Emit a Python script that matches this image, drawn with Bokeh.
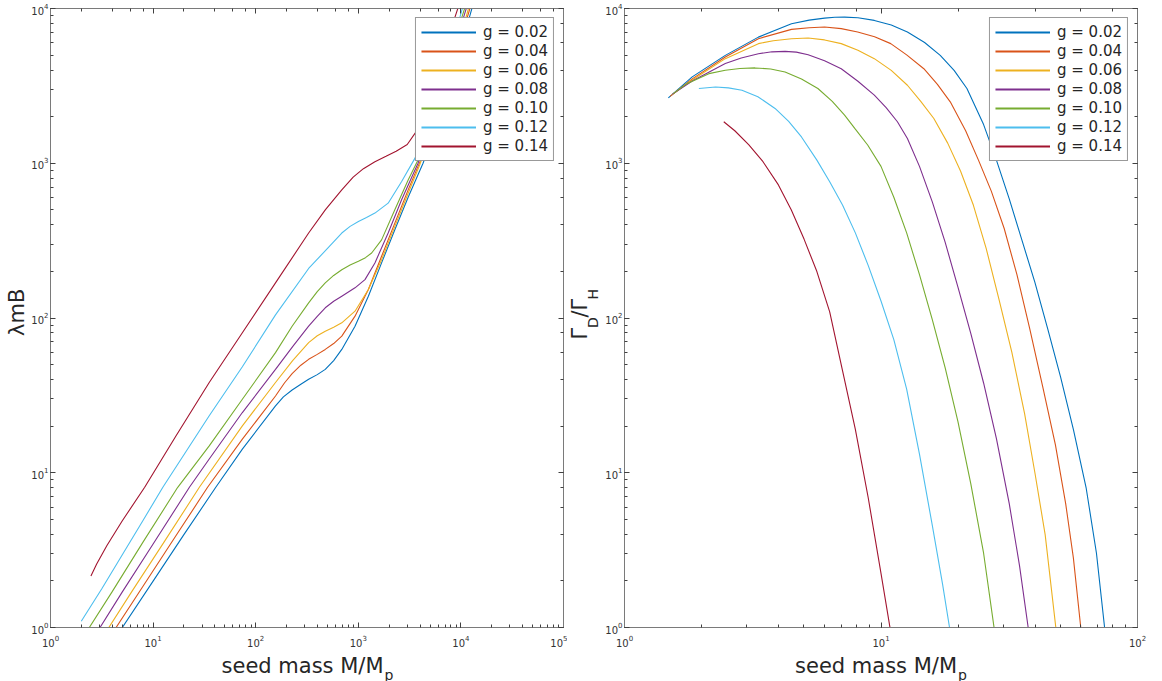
import numpy as np
from bokeh.plotting import figure
from bokeh.models import Range1d, LogAxis, LogTicker, Label, Legend, LegendItem, CustomJSTickFormatter
from bokeh.layouts import row, column
from bokeh.embed import file_html
from bokeh.resources import INLINE

# ---------------- data (log10 of the plotted values) ----------------
g_labels = ["g = 0.02", "g = 0.04", "g = 0.06", "g = 0.08", "g = 0.10", "g = 0.12", "g = 0.14"]
colors = ["#0072BD", "#D95319", "#EDB120", "#7E2F8E", "#77AC30", "#4DBEEE", "#A2142F"]

# Left panel: log10(M/Mp) vs log10(lambda m B)
left_logM_002 = [0.66, 1.0, 1.3, 1.611, 1.87, 2.193, 2.27, 2.355, 2.44, 2.516, 2.6, 2.678, 2.76, 2.839, 2.968, 3.098, 3.227, 3.356, 3.486, 3.631, 3.75, 3.88, 4.0, 4.12]
left_logY_002 = [-0.04, 0.3, 0.6, 0.906, 1.153, 1.432, 1.49, 1.535, 1.572, 1.604, 1.634, 1.668, 1.725, 1.797, 1.947, 2.141, 2.356, 2.57, 2.78, 3.0, 3.21, 3.48, 3.75, 4.03]
left_logM_004 = [0.60, 0.9, 1.2, 1.531, 1.87, 2.193, 2.28, 2.355, 2.44, 2.516, 2.6, 2.678, 2.76, 2.839, 2.968, 3.098, 3.227, 3.356, 3.486, 3.614, 3.74, 3.87, 3.99, 4.11]
left_logY_004 = [-0.04, 0.265, 0.57, 0.906, 1.217, 1.496, 1.58, 1.64, 1.695, 1.733, 1.765, 1.797, 1.835, 1.883, 2.012, 2.184, 2.399, 2.613, 2.828, 3.03, 3.25, 3.52, 3.78, 4.05]
left_logM_006 = [0.53, 0.8, 1.1, 1.451, 1.87, 2.193, 2.36, 2.516, 2.6, 2.678, 2.76, 2.839, 2.968, 3.098, 3.227, 3.356, 3.486, 3.598, 3.73, 3.86, 3.98, 4.095]
left_logY_006 = [-0.04, 0.24, 0.545, 0.906, 1.303, 1.583, 1.725, 1.841, 1.885, 1.915, 1.94, 1.969, 2.044, 2.184, 2.377, 2.592, 2.806, 2.989, 3.23, 3.51, 3.78, 4.05]
left_logM_008 = [0.445, 0.7, 1.0, 1.354, 1.547, 1.87, 2.193, 2.36, 2.516, 2.6, 2.678, 2.76, 2.839, 2.968, 3.065, 3.162, 3.291, 3.421, 3.582, 3.71, 3.84, 3.96, 4.08]
left_logY_008 = [-0.04, 0.23, 0.54, 0.906, 1.089, 1.389, 1.668, 1.815, 1.947, 2.01, 2.066, 2.108, 2.141, 2.195, 2.248, 2.356, 2.549, 2.763, 3.0, 3.24, 3.53, 3.8, 4.06]
left_logM_010 = [0.34, 0.6, 0.9, 1.24, 1.547, 1.87, 2.193, 2.355, 2.516, 2.6, 2.678, 2.76, 2.839, 2.92, 3.001, 3.07, 3.13, 3.227, 3.356, 3.486, 3.582, 3.70, 3.83, 3.95, 4.065]
left_logY_010 = [-0.04, 0.23, 0.55, 0.906, 1.174, 1.475, 1.776, 1.947, 2.098, 2.17, 2.227, 2.275, 2.312, 2.342, 2.366, 2.39, 2.42, 2.505, 2.699, 2.892, 3.021, 3.26, 3.55, 3.82, 4.06]
left_logM_012 = [0.30, 0.5, 0.7, 0.9, 1.095, 1.547, 1.87, 2.193, 2.516, 2.7, 2.839, 2.92, 3.001, 3.08, 3.162, 3.291, 3.421, 3.55, 3.67, 3.80, 3.92, 4.04]
left_logY_012 = [0.04, 0.25, 0.47, 0.69, 0.906, 1.368, 1.685, 2.02, 2.32, 2.45, 2.549, 2.592, 2.624, 2.65, 2.678, 2.742, 2.88, 3.03, 3.22, 3.5, 3.78, 4.06]
left_logM_014 = [0.394, 0.45, 0.55, 0.7, 0.918, 1.224, 1.547, 1.87, 2.193, 2.516, 2.68, 2.839, 2.95, 3.05, 3.162, 3.27, 3.369, 3.477, 3.566, 3.66, 3.78, 3.9, 4.0]
left_logY_014 = [0.333, 0.41, 0.53, 0.69, 0.906, 1.239, 1.583, 1.905, 2.227, 2.549, 2.70, 2.828, 2.91, 2.965, 3.01, 3.045, 3.078, 3.121, 3.206, 3.38, 3.62, 3.86, 4.06]

# Right panel: log10(M/Mp) vs log10(Gamma_D/Gamma_H)
right_logM_002 = [0.171, 0.264, 0.393, 0.522, 0.651, 0.72, 0.78, 0.82, 0.858, 0.91, 0.974, 1.04, 1.103, 1.17, 1.231, 1.285, 1.335, 1.40, 1.45, 1.50, 1.55, 1.60, 1.65, 1.70, 1.75, 1.80, 1.84, 1.875]
right_logY_002 = [3.422, 3.558, 3.697, 3.815, 3.901, 3.925, 3.938, 3.943, 3.944, 3.94, 3.923, 3.893, 3.848, 3.78, 3.697, 3.60, 3.483, 3.25, 3.02, 2.77, 2.50, 2.23, 1.93, 1.62, 1.28, 0.9, 0.48, -0.05]
right_logM_004 = [0.178, 0.264, 0.393, 0.522, 0.651, 0.72, 0.78, 0.845, 0.909, 0.975, 1.038, 1.10, 1.167, 1.22, 1.27, 1.33, 1.38, 1.43, 1.48, 1.53, 1.58, 1.63, 1.68, 1.72, 1.75, 1.782]
right_logY_004 = [3.432, 3.545, 3.687, 3.805, 3.865, 3.876, 3.88, 3.87, 3.848, 3.817, 3.773, 3.70, 3.611, 3.51, 3.397, 3.21, 3.02, 2.82, 2.58, 2.28, 1.93, 1.56, 1.18, 0.8, 0.45, -0.05]
right_logM_006 = [0.183, 0.264, 0.393, 0.522, 0.58, 0.651, 0.716, 0.78, 0.845, 0.91, 0.974, 1.04, 1.103, 1.155, 1.206, 1.26, 1.31, 1.36, 1.41, 1.46, 1.51, 1.56, 1.60, 1.64, 1.685]
right_logY_006 = [3.44, 3.538, 3.676, 3.773, 3.792, 3.805, 3.809, 3.797, 3.773, 3.73, 3.676, 3.60, 3.504, 3.40, 3.289, 3.13, 2.95, 2.73, 2.45, 2.12, 1.78, 1.38, 1.0, 0.6, -0.05]
right_logM_008 = [0.186, 0.264, 0.393, 0.455, 0.522, 0.575, 0.626, 0.67, 0.716, 0.78, 0.845, 0.91, 0.974, 1.02, 1.064, 1.103, 1.15, 1.2, 1.25, 1.30, 1.35, 1.40, 1.45, 1.50, 1.54, 1.578]
right_logY_008 = [3.445, 3.532, 3.644, 3.68, 3.708, 3.72, 3.723, 3.718, 3.701, 3.662, 3.611, 3.53, 3.44, 3.36, 3.268, 3.16, 2.98, 2.75, 2.49, 2.2, 1.9, 1.58, 1.22, 0.8, 0.4, -0.05]
right_logM_010 = [0.19, 0.239, 0.329, 0.393, 0.45, 0.509, 0.57, 0.626, 0.69, 0.754, 0.81, 0.858, 0.90, 0.948, 1.0, 1.05, 1.1, 1.15, 1.2, 1.25, 1.3, 1.35, 1.40, 1.445]
right_logY_010 = [3.45, 3.51, 3.579, 3.601, 3.612, 3.616, 3.609, 3.59, 3.545, 3.483, 3.40, 3.311, 3.22, 3.118, 2.98, 2.78, 2.55, 2.28, 1.99, 1.68, 1.33, 0.93, 0.48, -0.05]
right_logM_012 = [0.29, 0.355, 0.405, 0.458, 0.52, 0.587, 0.64, 0.69, 0.75, 0.80, 0.85, 0.9, 0.95, 1.0, 1.05, 1.1, 1.15, 1.2, 1.24, 1.272]
right_logY_012 = [3.483, 3.493, 3.487, 3.472, 3.43, 3.354, 3.27, 3.17, 3.02, 2.88, 2.73, 2.55, 2.34, 2.11, 1.86, 1.54, 1.12, 0.66, 0.28, -0.05]
right_logM_014 = [0.387, 0.43, 0.484, 0.54, 0.6, 0.65, 0.7, 0.75, 0.8, 0.85, 0.9, 0.95, 1.0, 1.04]
right_logY_014 = [3.268, 3.21, 3.12, 3.01, 2.86, 2.7, 2.51, 2.3, 2.04, 1.66, 1.28, 0.84, 0.35, -0.05]

left_series = [
    (left_logM_002, left_logY_002), (left_logM_004, left_logY_004), (left_logM_006, left_logY_006),
    (left_logM_008, left_logY_008), (left_logM_010, left_logY_010), (left_logM_012, left_logY_012),
    (left_logM_014, left_logY_014),
]
right_series = [
    (right_logM_002, right_logY_002), (right_logM_004, right_logY_004), (right_logM_006, right_logY_006),
    (right_logM_008, right_logY_008), (right_logM_010, right_logY_010), (right_logM_012, right_logY_012),
    (right_logM_014, right_logY_014),
]

FONT = "DejaVu Sans"
AXIS_COLOR = "#7a7a7a"
TICK_COLOR = "#404040"
TEXT_COLOR = "#333333"
TITLE_COLOR = "#262626"
TOP_H = 649      # height of the row holding the two panels
BOT_H = 32       # height of the row holding the x titles


def style_axis(ax, show_labels=True, standoff=4):
    ax.axis_line_color = AXIS_COLOR
    ax.axis_line_width = 1
    ax.major_tick_in = 5
    ax.major_tick_out = 0
    ax.minor_tick_in = 3
    ax.minor_tick_out = 0
    ax.major_tick_line_color = TICK_COLOR
    ax.minor_tick_line_color = TICK_COLOR
    ax.major_label_text_font = FONT
    ax.major_label_text_color = TEXT_COLOR
    if show_labels:
        ax.major_label_text_font_size = "10px"
        ax.major_label_standoff = standoff
    else:
        ax.formatter = CustomJSTickFormatter(code="return ''")
        ax.major_label_text_font_size = "1px"
        ax.major_label_standoff = 0


def make_panel(xmax, width, border_left, border_right, series):
    p = figure(width=width, height=TOP_H, x_axis_type="log", y_axis_type="log",
               x_range=Range1d(1, xmax), y_range=Range1d(1, 1e4),
               output_backend="svg", toolbar_location=None,
               min_border_left=border_left, min_border_right=border_right,
               min_border_top=8, min_border_bottom=20)
    p.xgrid.visible = False
    p.ygrid.visible = False
    p.outline_line_color = AXIS_COLOR
    p.background_fill_color = "white"
    p.border_fill_color = "white"
    style_axis(p.xaxis[0], True, 7)
    style_axis(p.yaxis[0], True, 2)
    top = LogAxis(ticker=LogTicker())
    right = LogAxis(ticker=LogTicker())
    style_axis(top, False)
    style_axis(right, False)
    p.add_layout(top, "above")
    p.add_layout(right, "right")

    items = []
    for (lx, ly), c, lab in zip(series, colors, g_labels):
        p.line(np.power(10.0, lx), np.power(10.0, ly), line_color=c, line_width=1.1)
        dummy = p.line([1.0], [1.0], line_color=c, line_width=2)
        items.append(LegendItem(label=lab, renderers=[dummy]))
    leg = Legend(items=items, location="top_right")
    leg.border_line_color = "#333333"
    leg.border_line_width = 1.5
    leg.background_fill_color = "white"
    leg.background_fill_alpha = 1.0
    leg.label_text_font = FONT
    leg.label_text_font_size = "15px"
    leg.label_text_color = TITLE_COLOR
    leg.glyph_width = 55
    leg.glyph_height = 18
    leg.label_height = 18
    leg.label_standoff = 7
    leg.spacing = 1
    leg.padding = 5
    leg.margin = 9
    p.add_layout(leg)
    return p


def text_canvas(width, height):
    """A bare figure (no axes) used only to hold title texts; y grows downward."""
    f = figure(width=width, height=height, x_range=Range1d(0, width), y_range=Range1d(height, 0),
               output_backend="svg", toolbar_location=None,
               x_axis_location=None, y_axis_location=None,
               min_border=0, min_border_left=0, min_border_right=0,
               min_border_top=0, min_border_bottom=0)
    f.xgrid.visible = False
    f.ygrid.visible = False
    f.outline_line_color = None
    f.background_fill_color = "white"
    f.border_fill_color = "white"
    return f


# layout (page origin at 0,0):
#  ylab1 [0,28) | panel1 [28,567) | ylab2 [567,602) | panel2 [602,1149)
yl1 = text_canvas(28, TOP_H)
p1 = make_panel(1e5, 539, 19, 4, left_series)
yl2 = text_canvas(35, TOP_H)
p2 = make_panel(1e2, 547, 18, 12, right_series)

# left y title (rotated, reading upward), centred on its glyphs
yl1.add_layout(Label(x=16, y=318.5, text="λmB", text_font=FONT, text_font_size="21px",
                     text_color=TITLE_COLOR, text_align="center", text_baseline="middle",
                     angle=np.pi / 2))

# right y title: Γ_D/Γ_H built from main glyphs and subscripts
for txt, size, xc, ys in [("Γ", "21px", 12.5, 347), ("D", "14px", 25, 335),
                          ("/Γ", "21px", 12.5, 324), ("H", "14px", 25, 305)]:
    yl2.add_layout(Label(x=xc, y=ys, text=txt, text_font=FONT, text_font_size=size,
                         text_color=TITLE_COLOR, text_align="left", text_baseline="middle",
                         angle=np.pi / 2))

# x titles
xl1 = text_canvas(567, BOT_H)
xl2 = text_canvas(582, BOT_H)
for f, xend in [(xl1, 383), (xl2, 389.5)]:
    f.add_layout(Label(x=xend, y=16, text="seed mass M/M", text_font=FONT, text_font_size="21px",
                       text_color=TITLE_COLOR, text_align="right", text_baseline="alphabetic"))
    f.add_layout(Label(x=xend + 1, y=25, text="p", text_font=FONT, text_font_size="14px",
                       text_color=TITLE_COLOR, text_align="left", text_baseline="alphabetic"))

layout = column(row(yl1, p1, yl2, p2), row(xl1, xl2))
open("out.html", "w").write(file_html(layout, INLINE))
